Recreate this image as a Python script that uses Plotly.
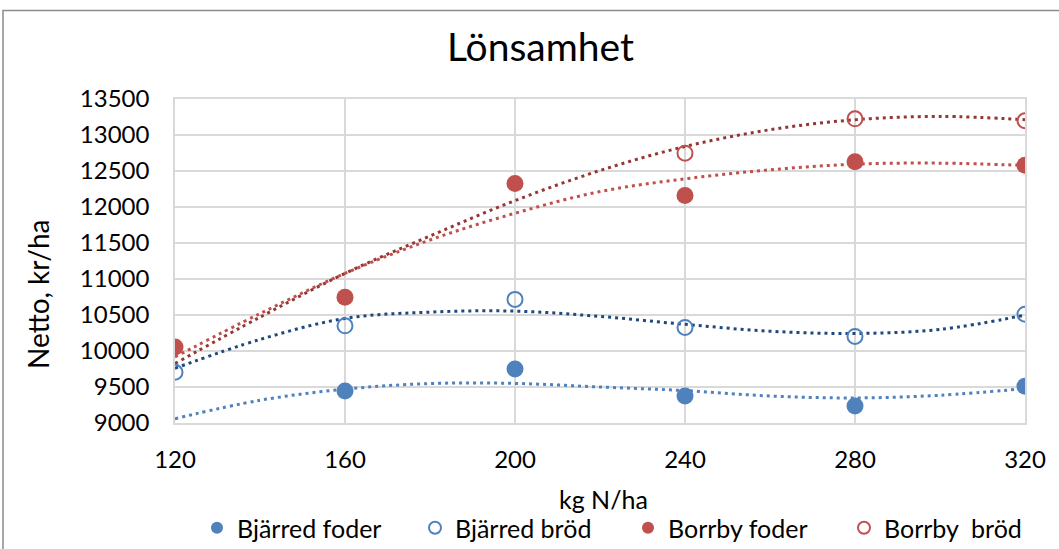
import plotly.graph_objects as go

# ---- data ----
x_vals = [120, 160, 200, 240, 280, 320]
bjarred_foder = [None, 9445, 9751, 9376, 9237, 9511]
bjarred_brod = [9705, 10350, 10717, 10327, 10202, 10512]
borrby_foder = [10057, 10745, 12325, 12159, 12627, 12581]
borrby_brod = [None, None, None, 12748, 13225, 13198]

# trend lines
trend_x = [120, 140, 160, 180, 200, 220, 240, 260, 280, 300, 320]
trend_bjarred_foder = [9060, 9316, 9470, 9548, 9550, 9500, 9450, 9375, 9348, 9385, 9478]
trend_bjarred_brod = [9760, 10160, 10452, 10540, 10554, 10480, 10370, 10275, 10244, 10300, 10499]
trend_borrby_foder = [9918, 10520, 11078, 11542, 11913, 12214, 12391, 12516, 12595, 12609, 12577]
trend_borrby_brod = [9826, 10470, 11078, 11598, 12089, 12507, 12840, 13073, 13212, 13258, 13212]

x_ticks = [120, 160, 200, 240, 280, 320]
y_ticks = [9000, 9500, 10000, 10500, 11000, 11500, 12000, 12500, 13000, 13500]

BLUE = "#4F81BD"
DARK_BLUE = "#1F497D"
RED = "#C0504D"
DARK_RED = "#943634"
FONT = "Lato"

fig = go.Figure()

dash = "3px,4px"
for ty, col in [(trend_bjarred_foder, BLUE), (trend_bjarred_brod, DARK_BLUE),
                (trend_borrby_foder, RED), (trend_borrby_brod, DARK_RED)]:
    fig.add_trace(go.Scatter(x=trend_x, y=ty, mode="lines", showlegend=False,
                             hoverinfo="skip",
                             line=dict(color=col, width=3, dash=dash, shape="spline", smoothing=1.0)))

fig.add_trace(go.Scatter(x=x_vals, y=bjarred_foder, mode="markers", name="Bjärred foder",
                         legend="legend",
                         marker=dict(symbol="circle", size=17, color=BLUE)))
fig.add_trace(go.Scatter(x=x_vals, y=bjarred_brod, mode="markers", name="Bjärred bröd",
                         legend="legend2",
                         marker=dict(symbol="circle-open", size=15, color=BLUE, line=dict(width=2, color=BLUE))))
fig.add_trace(go.Scatter(x=x_vals, y=borrby_foder, mode="markers", name="Borrby foder",
                         legend="legend3",
                         marker=dict(symbol="circle", size=17, color=RED)))
fig.add_trace(go.Scatter(x=x_vals, y=borrby_brod, mode="markers", name="Borrby  bröd",
                         legend="legend4",
                         marker=dict(symbol="circle-open", size=15, color=RED, line=dict(width=2, color=RED))))

L, R, T, B = 175, 34, 99, 126
W, H = 1059, 549
pw = W - L - R
ph = H - T - B

def px(xp):
    return (xp - L) / pw

def py(yp):
    return (H - B - yp) / ph

def legend_at(marker_px):
    return dict(orientation="h", x=px(marker_px - 18), y=py(528), xanchor="left", yanchor="middle",
                font=dict(size=25, family=FONT), itemsizing="constant",
                bgcolor="rgba(0,0,0,0)")

fig.update_layout(
    width=W, height=H,
    margin=dict(l=L, r=R, t=T, b=B, autoexpand=False),
    paper_bgcolor="white", plot_bgcolor="white",
    font=dict(family=FONT, color="black"),
    showlegend=True,
    legend=legend_at(215),
    legend2=legend_at(433),
    legend3=legend_at(646),
    legend4=legend_at(862),
    xaxis=dict(range=[120, 320], tickvals=x_ticks, ticktext=[str(v) for v in x_ticks],
               showgrid=True, gridcolor="#D9D9D9", gridwidth=1.5,
               showline=True, linecolor="#D9D9D9", linewidth=1.5, mirror=True,
               zeroline=False, ticks="", tickfont=dict(size=24, family=FONT),
               ticklabelstandoff=14),
    yaxis=dict(range=[9000, 13500], tickvals=y_ticks, ticktext=[str(v) for v in y_ticks],
               showgrid=True, gridcolor="#D9D9D9", gridwidth=1.5,
               showline=True, linecolor="#D9D9D9", linewidth=1.5, mirror=True,
               zeroline=False, ticks="", tickfont=dict(size=24, family=FONT),
               ticklabelstandoff=19),
    annotations=[
        dict(text="Lönsamhet", xref="paper", yref="paper", x=px(540), y=py(46),
             xanchor="center", yanchor="middle", showarrow=False, font=dict(size=39, family=FONT)),
        dict(text="kg N/ha", xref="paper", yref="paper", x=px(603), y=py(499),
             xanchor="center", yanchor="middle", showarrow=False, font=dict(size=25, family=FONT)),
        dict(text="Netto, kr/ha", xref="paper", yref="paper", x=px(38), y=py(294),
             xanchor="center", yanchor="middle", showarrow=False, textangle=-90,
             font=dict(size=28, family=FONT)),
    ],
    shapes=[
        dict(type="rect", xref="paper", yref="paper", x0=px(3), x1=px(1100), y0=py(600), y1=py(10.5),
             line=dict(color="#8C8C8C", width=1.5), fillcolor="rgba(0,0,0,0)", layer="below"),
    ],
)

fig.write_html("out.html")
